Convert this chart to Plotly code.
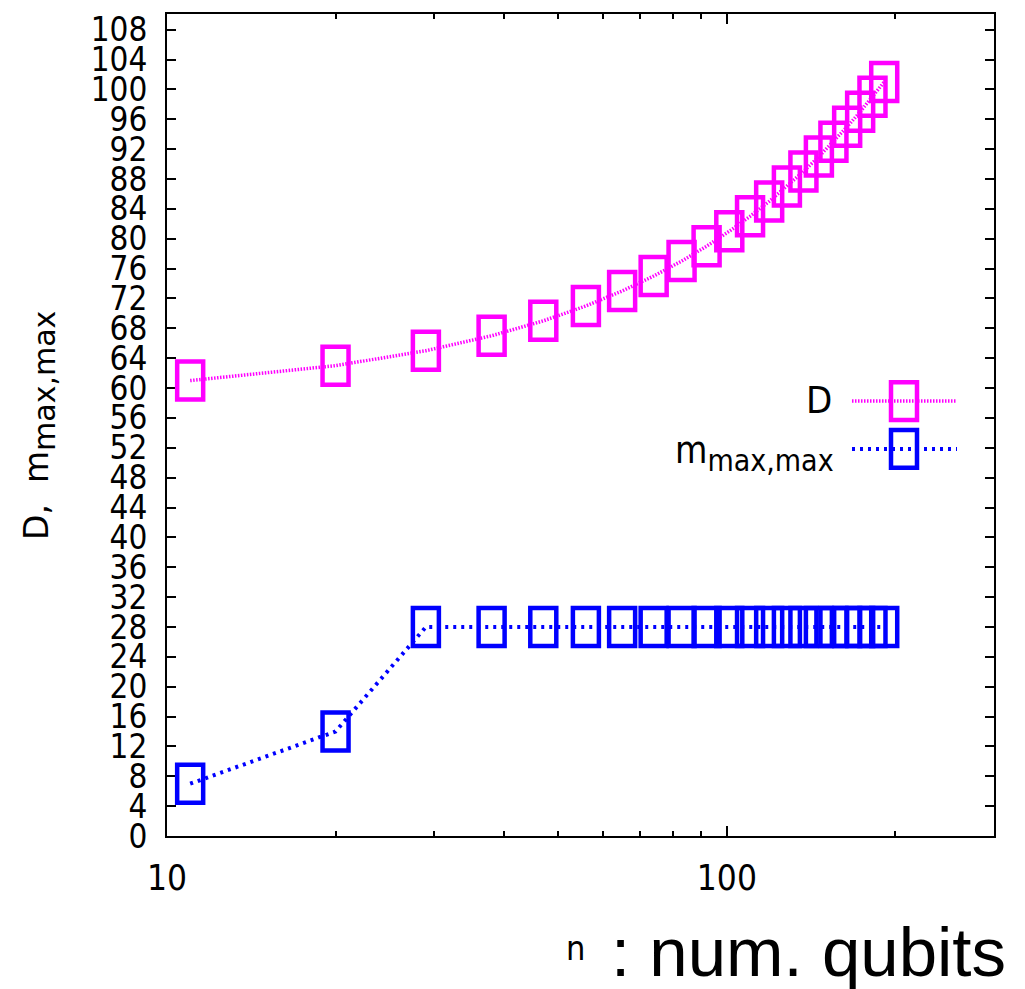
import numpy as np
import plotly.graph_objects as go

# number of qubits
n_qubits = [11, 20, 29, 38, 47, 56, 65, 74, 83, 92, 101, 110, 119, 128, 137,
            146, 155, 164, 173, 182, 191]
# depth D
depth = [61, 63, 65, 67, 69, 71, 73, 75, 77, 79, 81, 83, 85, 87, 89,
         91, 93, 95, 97, 99, 101]
# m_max,max
m_maxmax = [7, 14, 28, 28, 28, 28, 28, 28, 28, 28, 28, 28, 28, 28, 28,
            28, 28, 28, 28, 28, 28]

y_ticks = list(range(0, 109, 4))
x_major = [10, 100]
x_minor = [20, 30, 40, 50, 60, 70, 80, 90, 200]
x_range = [10, 300]

MAGENTA = "#ff00ff"
BLUE = "#0000ff"
NARROW = "DejaVu Sans Condensed, Liberation Sans Narrow, sans-serif"

fig = go.Figure()
fig.add_trace(go.Scatter(x=n_qubits, y=depth, mode="lines", name="D",
                         line=dict(color=MAGENTA, width=3.5, dash="1.5px,1.5px"),
                         showlegend=False))
fig.add_trace(go.Scatter(x=n_qubits, y=m_maxmax, mode="lines", name="m_max,max",
                         line=dict(color=BLUE, width=4, dash="3px,5px"),
                         showlegend=False))

shapes = []
# open rectangular point markers, sized in pixels, placed on a hidden
# linear axis that carries log10(n) so it lines up with the log axis
log_n = np.log10(n_qubits)
for series, color in ((depth, MAGENTA), (m_maxmax, BLUE)):
    for xv, yv in zip(log_n, series):
        shapes.append(dict(type="rect", xref="x2", yref="y",
                           xsizemode="pixel", ysizemode="pixel",
                           xanchor=float(xv), yanchor=yv,
                           x0=-13, x1=13, y0=-19, y1=19,
                           line=dict(color=color, width=4.5),
                           fillcolor="rgba(0,0,0,0)", layer="above"))

# key (right-aligned text, then line sample with marker)
L, R, T, B = 167, 994, 10, 836
def px(x):
    return (x - L) / (R - L)
def py(y):
    return (B - y) / (B - T)

for ypix, color, dash, width in ((399, MAGENTA, "1.5px,1.5px", 3.5), (447, BLUE, "3px,5px", 4)):
    shapes.append(dict(type="line", xref="paper", yref="paper",
                       x0=px(852), x1=px(957), y0=py(ypix), y1=py(ypix),
                       line=dict(color=color, width=width, dash=dash)))
    shapes.append(dict(type="rect", xref="paper", yref="paper",
                       x0=px(891), x1=px(917), y0=py(ypix + 19), y1=py(ypix - 19),
                       line=dict(color=color, width=4.5)))

SUB = "<sub><span style='font-size:{}px'>max,max</span></sub>"
annotations = [
    dict(text="D", xref="paper", yref="paper", x=px(834), y=py(398),
         xanchor="right", yanchor="middle", showarrow=False,
         font=dict(family=NARROW, size=38, color="black")),
    dict(text="m" + SUB.format(30), xref="paper", yref="paper", x=px(836), y=py(452),
         xanchor="right", yanchor="middle", showarrow=False,
         font=dict(family=NARROW, size=37, color="black")),
    # axis titles
    dict(text="D,  m" + SUB.format(30), xref="paper", yref="paper",
         x=px(40), y=py(424), xanchor="center", yanchor="middle", textangle=-90,
         showarrow=False, font=dict(family="DejaVu Sans", size=33, color="black")),
    dict(text="n", xref="paper", yref="paper", x=px(587), y=py(949),
         xanchor="right", yanchor="middle", showarrow=False,
         font=dict(family=NARROW, size=34, color="black")),
    dict(text=": num. qubits", xref="paper", yref="paper", x=px(1008), y=py(953),
         xanchor="right", yanchor="middle", showarrow=False,
         font=dict(family="Liberation Sans, Arial, sans-serif", size=69, color="black")),
]

fig.update_layout(
    width=1025, height=989,
    margin=dict(l=L, r=1025 - R, t=T, b=989 - B, pad=0),
    paper_bgcolor="white", plot_bgcolor="white",
    showlegend=False,
    shapes=shapes, annotations=annotations,
    xaxis=dict(type="log", range=[np.log10(x_range[0]), np.log10(x_range[1])],
               showgrid=False, zeroline=False,
               showline=True, linecolor="black", linewidth=2, mirror="ticks",
               ticks="inside", ticklen=10, tickwidth=2, tickcolor="black",
               tickmode="array", tickvals=x_major, ticktext=[str(v) for v in x_major],
               minor=dict(ticks="inside", ticklen=5, tickwidth=1.5, tickcolor="black",
                          tickmode="array", tickvals=x_minor, showgrid=False),
               tickfont=dict(family=NARROW, size=35, color="black"),
               ticklabelstandoff=10),
    xaxis2=dict(overlaying="x", range=[np.log10(x_range[0]), np.log10(x_range[1])],
                visible=False, showgrid=False, zeroline=False),
    yaxis=dict(range=[0, 110.1], showgrid=False, zeroline=False,
               showline=True, linecolor="black", linewidth=2, mirror="ticks",
               ticks="inside", ticklen=9, tickwidth=2, tickcolor="black",
               tickmode="array", tickvals=y_ticks, ticktext=[str(v) for v in y_ticks],
               tickfont=dict(family=NARROW, size=33, color="black"),
               ticklabelstandoff=11),
)

fig.write_html("out.html")
